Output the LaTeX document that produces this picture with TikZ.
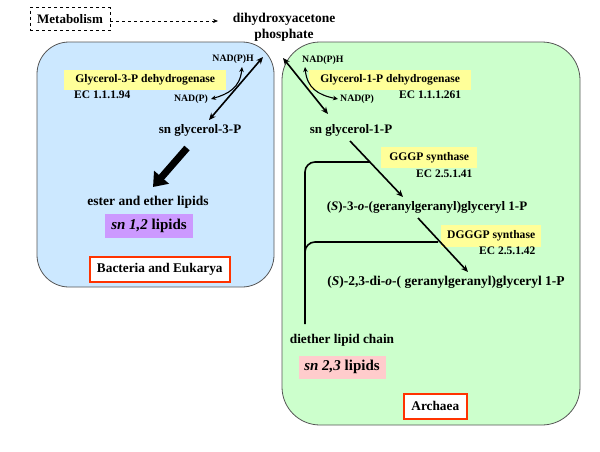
\documentclass[tikz,border=0pt]{standalone}
\usepackage{fontspec}
\setmainfont{Liberation Serif}
\usetikzlibrary{arrows.meta}
\definecolor{bluefill}{HTML}{CCE8FF}
\definecolor{greenfill}{HTML}{CCFFCC}
\definecolor{yellowhl}{HTML}{FFFF99}
\definecolor{purplehl}{HTML}{CC99FF}
\definecolor{pinkhl}{HTML}{FFCCCC}
\definecolor{redframe}{HTML}{FF3300}
\definecolor{boxedge}{HTML}{555555}
\tikzset{
  txt/.style={font=\bfseries\fontsize{13}{15}\selectfont, inner sep=0pt},
  ectxt/.style={font=\bfseries\fontsize{11.5}{13}\selectfont, inner sep=0pt, anchor=west},
  small/.style={font=\bfseries\fontsize{9.8}{11}\selectfont, inner sep=0pt},
  enz/.style={font=\bfseries\fontsize{11.6}{13}\selectfont, fill=yellowhl, inner sep=0pt, anchor=north west},
  region/.style={draw=boxedge, line width=0.8pt},
  label/.style={draw=redframe, line width=1.6pt, fill=white, font=\bfseries\fontsize{13.3}{15}\selectfont, inner sep=0pt, anchor=north west},
  react/.style={line width=1.6pt, -{Stealth[length=7pt,width=6pt]}},
  both/.style={line width=1.6pt, {Stealth[length=7pt,width=6pt]}-{Stealth[length=7pt,width=6pt]}},
  cofac/.style={line width=1.1pt, {Stealth[length=5pt,width=4.5pt]}-{Stealth[length=5pt,width=4.5pt]}},
  brack/.style={line width=1.6pt, rounded corners=10pt},
}
\begin{document}
\begin{tikzpicture}[x=1pt,y=-1pt]
\useasboundingbox (0,0) rectangle (600,451);
% regions
\draw[region, fill=bluefill, rounded corners=32pt] (37,42) rectangle (274,287);
\draw[region, fill=greenfill, rounded corners=38pt] (282,42) rectangle (580,425);
% top
\node[draw, dashed, line width=0.5pt, font=\bfseries\fontsize{13}{15}\selectfont, minimum width=80pt, minimum height=23pt, inner sep=0pt] (met) at (70,19) {Metabolism};
\node[txt, align=center, font=\bfseries\fontsize{13.5}{16}\selectfont] (dhap) at (284,27) {dihydroxyacetone\\phosphate};
\coordinate (dhapin) at (218,21);
\draw[dashed, line width=0.6pt, -{Stealth[length=5pt,width=4pt]}] (met.east |- dhapin) -- (dhapin);
% bacteria side
\node[enz, minimum width=162pt, minimum height=20pt] (g3pd) at (64,70) {Glycerol-3-P dehydrogenase};
\node[ectxt] (ec1) at (74,95) {EC 1.1.1.94};
\node[small, anchor=east] (nadph1) at (254,59) {NAD(P)H};
\node[small, anchor=east] (nadp1) at (208,99) {NAD(P)};
\node[txt] (g3p) at (200,130) {sn glycerol-3-P};
\coordinate (b1) at (263,57);
\coordinate (b2) at (209,120);
\draw[both] (b1) -- (b2);
\draw[cofac] ([xshift=3pt]nadp1.east) .. controls (228,94) and (240,88) .. (242,67);
\node[txt, font=\bfseries\fontsize{13.5}{15}\selectfont] (eel) at (148,202) {ester and ether lipids};
\coordinate (t1) at (187,148);
\coordinate (t2) at (153,187);
\draw[line width=7pt, -{Triangle[length=13pt,width=19pt]}] (t1) -- (t2);
\node[fill=purplehl, minimum width=88pt, minimum height=24pt, inner sep=0pt, font=\bfseries\fontsize{15}{17}\selectfont] (sn12) at (149,226) {\textit{sn 1,2} lipids};
\node[label, minimum width=140pt, minimum height=25pt] (bact) at (89,256) {Bacteria and Eukarya};
% archaea side
\node[small, anchor=west] (nadph2) at (302,60) {NAD(P)H};
\node[small, anchor=west] (nadp2) at (340,99) {NAD(P)};
\node[enz, minimum width=162pt, minimum height=20pt] (g1pd) at (309,70) {Glycerol-1-P dehydrogenase};
\node[ectxt] (ec2) at (399,95) {EC 1.1.1.261};
\node[txt] (g1p) at (351,130) {sn glycerol-1-P};
\coordinate (a1) at (283,58);
\coordinate (a2) at (328,114);
\draw[both] (a1) -- (a2);
\draw[cofac] (305,67) .. controls (307,88) and (318,95) .. ([xshift=-2pt]nadp2.west);
\node[enz, minimum width=96pt, minimum height=21pt] (gggp) at (381,147) {GGGP synthase};
\node[ectxt] (ec3) at (416,174) {EC 2.5.1.41};
\node[txt] (s3) at (427,207) {(\textit{S})-3-\textit{o}-(geranylgeranyl)glyceryl 1-P};
\node[enz, minimum width=100pt, minimum height=22pt] (dgggp) at (441,225) {DGGGP synthase};
\node[ectxt] (ec4) at (479,251) {EC 2.5.1.42};
\node[txt, font=\bfseries\fontsize{13.5}{15}\selectfont] (s23) at (446,282) {(\textit{S})-2,3-di-\textit{o}-( geranylgeranyl)glyceryl 1-P};
\coordinate (r1) at (350,141);
\coordinate (r1e) at (403,197);
\draw[react] (r1) -- (r1e);
\coordinate (r2) at (418,218);
\coordinate (r2e) at (468,272);
\draw[react] (r2) -- (r2e);
\coordinate (k1) at (370,162);
\coordinate (k2) at (438,242);
\coordinate (kb) at (305,324);
\draw[brack] (k1) -- (305,162) -- (kb);
\draw[brack] (k2) -- (305,242) -- (305,262);
\node[txt, font=\bfseries\fontsize{13.3}{15}\selectfont] (dlc) at (342,340) {diether lipid chain};
\node[fill=pinkhl, minimum width=87pt, minimum height=23pt, inner sep=0pt, font=\bfseries\fontsize{15}{17}\selectfont] (sn23) at (342,367) {\textit{sn 2,3} lipids};
\node[label, minimum width=63pt, minimum height=25pt] (arch) at (403,393) {Archaea};
\end{tikzpicture}
\end{document}
